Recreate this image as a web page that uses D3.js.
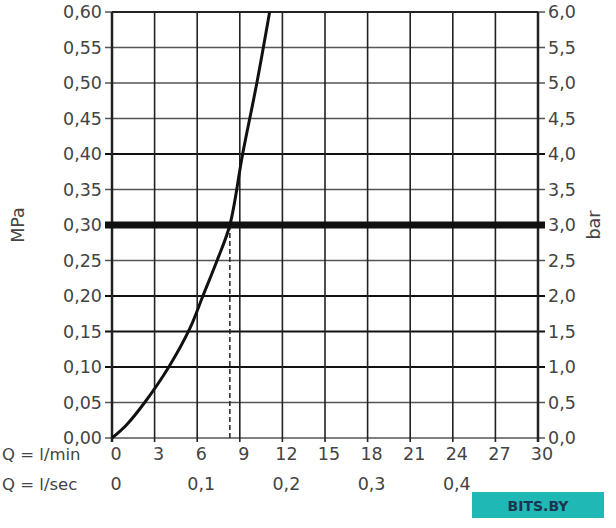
<!DOCTYPE html><html><head><meta charset="utf-8"><script src="https://cdn.jsdelivr.net/npm/d3@7"></script>
<style>body{margin:0;background:#fff}text{font-family:"DejaVu Sans",Arial,sans-serif;fill:#444}</style></head><body><svg id="c" width="616" height="528"></svg>
<script>
const flowLmin=[0,1,2.3,4,5.5,6.4,7.4,8.3,9.2,10.2,11.1];
const pressMPa=[0,0.018,0.05,0.1,0.155,0.2,0.25,0.3,0.4,0.5,0.6];
const xTicks=[0,3,6,9,12,15,18,21,24,27,30];
const yTicks=[0,0.05,0.1,0.15,0.2,0.25,0.3,0.35,0.4,0.45,0.5,0.55,0.6];
const secTicks=[0,0.1,0.2,0.3,0.4];
const refFlow=8.3, refP=0.3;
const svg=d3.select("#c");
const x=d3.scaleLinear().domain([0,30]).range([112,538]);
const y=d3.scaleLinear().domain([0,0.6]).range([438,12]);
const fmt2=d=>d.toFixed(2).replace(".",","), fmt1=d=>(d*10).toFixed(1).replace(".",",");
const fs=17.5;
yTicks.forEach(t=>{const major=[0.1,0.15,0.2,0.4].some(v=>Math.abs(v-t)<1e-9);
 svg.append("line").attr("x1",x(0)-7).attr("x2",x(30)+7).attr("y1",y(t)).attr("y2",y(t))
  .attr("stroke",major?"#111":"#555").attr("stroke-width",major?2:1.6);
 svg.append("text").attr("x",x(0)-10).attr("y",y(t)+6).attr("text-anchor","end").attr("font-size",fs).text(fmt2(t));
 svg.append("text").attr("x",x(30)+10).attr("y",y(t)+6).attr("font-size",fs).text(fmt1(t));});
xTicks.forEach(t=>{svg.append("line").attr("x1",x(t)).attr("x2",x(t)).attr("y1",y(0.6)).attr("y2",y(0)+4)
  .attr("stroke","#222").attr("stroke-width",(t==0||t==30)?2.5:1.6);
 svg.append("text").attr("x",x(t)+4).attr("y",460).attr("text-anchor","middle").attr("font-size",fs).text(t);});
svg.append("line").attr("x1",x(0)).attr("x2",x(30)).attr("y1",y(0.6)).attr("y2",y(0.6)).attr("stroke","#222").attr("stroke-width",2);
svg.append("line").attr("x1",x(0)-7).attr("x2",x(30)+7).attr("y1",y(refP)).attr("y2",y(refP)).attr("stroke","#111").attr("stroke-width",7);
svg.append("line").attr("x1",x(refFlow)).attr("x2",x(refFlow)).attr("y1",y(refP)).attr("y2",y(0)).attr("stroke","#222").attr("stroke-width",1.5).attr("stroke-dasharray","5,3");
svg.append("path").datum(flowLmin.map((f,i)=>[f,pressMPa[i]])).attr("fill","none").attr("stroke","#111").attr("stroke-width",3)
 .attr("d",d3.line().x(d=>x(d[0])).y(d=>y(d[1])).curve(d3.curveCatmullRom));
secTicks.forEach(t=>svg.append("text").attr("x",x(t*60)+4).attr("y",490).attr("text-anchor","middle").attr("font-size",fs).text(t===0?"0":String(t).replace(".",",")));
svg.append("text").attr("x",2).attr("y",460).attr("font-size",16.5).text("Q = l/min");
svg.append("text").attr("x",2).attr("y",490).attr("font-size",16.5).text("Q = l/sec");
svg.append("text").attr("transform","translate(24,225) rotate(-90)").attr("text-anchor","middle").attr("font-size",fs).text("MPa");
svg.append("text").attr("transform","translate(600,225) rotate(-90)").attr("text-anchor","middle").attr("font-size",fs).text("bar");
svg.append("rect").attr("x",472).attr("y",492).attr("width",132).attr("height",26).attr("fill","#1fb8b4");
svg.append("text").attr("x",538).attr("y",511).attr("text-anchor","middle").attr("font-size",14).attr("font-weight","bold").style("fill","#1b3550").text("BITS.BY");
</script></body></html>
